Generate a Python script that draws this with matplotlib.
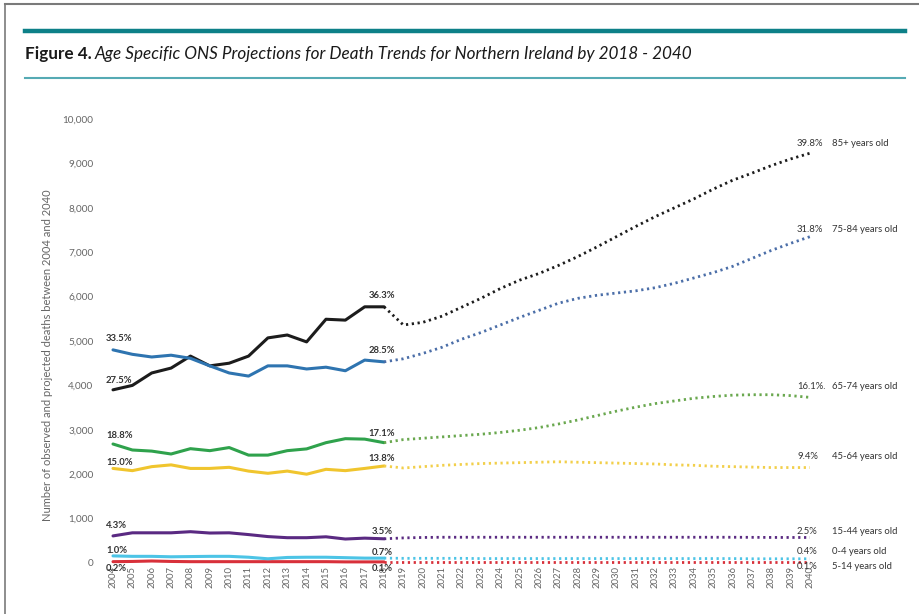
import numpy as np
import matplotlib
matplotlib.use("Agg")
import matplotlib.pyplot as plt
from matplotlib.lines import Line2D

plt.rcParams['font.family'] = ['Lato', 'DejaVu Sans']

# -------- DATOS --------
years_obs = list(range(2004, 2019))
years_proj = list(range(2019, 2041))

groups = ['85+ years old', '75-84 years old', '65-74 years old', '45-64 years old',
          '15-44 years old', '0-4 years old', '5-14 years old']

obs_85 = [3900, 4000, 4280, 4390, 4660, 4440, 4500, 4660, 5070, 5135, 4980, 5490, 5470, 5770, 5770]
proj_85 = [5360, 5420, 5560, 5760, 5960, 6180, 6370, 6520, 6700, 6900, 7120, 7350, 7580, 7800,
           8000, 8200, 8420, 8620, 8780, 8950, 9100, 9230]

obs_75 = [4800, 4700, 4640, 4680, 4610, 4440, 4280, 4210, 4440, 4440, 4370, 4410, 4330, 4570, 4530]
proj_75 = [4600, 4720, 4860, 5040, 5190, 5360, 5530, 5690, 5850, 5960, 6030, 6080, 6130, 6200,
           6300, 6420, 6540, 6680, 6860, 7040, 7200, 7350]

obs_65 = [2680, 2545, 2520, 2455, 2575, 2530, 2600, 2430, 2430, 2530, 2570, 2710, 2800, 2790, 2710]
proj_65 = [2780, 2810, 2840, 2870, 2900, 2940, 2990, 3050, 3130, 3220, 3320, 3420, 3510, 3590,
           3650, 3710, 3750, 3780, 3790, 3790, 3770, 3730]

obs_45 = [2130, 2080, 2170, 2210, 2130, 2130, 2155, 2070, 2020, 2070, 2000, 2110, 2080, 2130, 2185]
proj_45 = [2140, 2170, 2200, 2220, 2240, 2250, 2260, 2270, 2280, 2270, 2260, 2250, 2240, 2230,
           2210, 2200, 2180, 2170, 2160, 2150, 2150, 2150]

obs_15 = [610, 680, 680, 680, 705, 675, 680, 640, 595, 570, 570, 590, 540, 560, 545]
proj_15 = [565, 575, 580, 580, 580, 580, 580, 580, 580, 580, 580, 580, 580, 580,
           580, 580, 580, 580, 578, 576, 575, 575]

obs_0 = [160, 150, 150, 140, 145, 150, 150, 130, 95, 125, 130, 130, 120, 110, 110]
proj_0 = [105, 105, 105, 105, 100, 100, 100, 100, 100, 100, 100, 100, 100, 100,
          100, 100, 100, 100, 95, 95, 95, 95]

obs_5 = [30, 35, 45, 35, 30, 30, 30, 30, 30, 30, 30, 30, 25, 25, 25]
proj_5 = [25, 25, 25, 25, 25, 25, 25, 25, 25, 25, 25, 25, 25, 25,
          25, 25, 25, 25, 25, 25, 25, 25]

pct_2004 = ['27.5%', '33.5%', '18.8%', '15.0%', '4.3%', '1.0%', '0.2%']
pct_2018 = ['36.3%', '28.5%', '17.1%', '13.8%', '3.5%', '0.7%', '0.1%']
pct_2040 = ['39.8%', '31.8%', '16.1%.', '9.4%', '2.5%', '0.4%', '0.1%']

observados = [obs_85, obs_75, obs_65, obs_45, obs_15, obs_0, obs_5]
proyectados = [proj_85, proj_75, proj_65, proj_45, proj_15, proj_0, proj_5]

# -------- ESTILO --------
col_obs = ['#1c1c1c', '#2e74b0', '#2fa24c', '#f0c52e', '#5a2a82', '#4cc4e6', '#d8303a']
col_proj = ['#1c1c1c', '#4b6ea8', '#6aa84f', '#f2cf4a', '#5a2a82', '#4cc4e6', '#d8303a']

# desplazamientos de etiquetas (en pixeles, + arriba)
dy_ini = [9, 11, 8.5, 5.5, 10, 5.5, -7]
dy_mid = [11, 11, 9.5, 7.5, 7.5, 6, -7]
dy_fin = [10, 7, 11, 11, 6, 7, -5]

W, H = 919, 614
fig = plt.figure(figsize=(W / 100, H / 100), dpi=100)

# marco y barras del encabezado
fig.add_artist(Line2D([5 / W, 1], [1 - 4 / H, 1 - 4 / H], color='#7a7a7a', lw=1.5))
fig.add_artist(Line2D([5 / W, 5 / W], [0, 1 - 4 / H], color='#7a7a7a', lw=1.2))
fig.add_artist(Line2D([25 / W, 905 / W], [1 - 30.5 / H, 1 - 30.5 / H], color='#0d8088', lw=3.2))
fig.add_artist(Line2D([25 / W, 905 / W], [1 - 78 / H, 1 - 78 / H], color='#55aab4', lw=1.5))

t1 = fig.text(25 / W, 1 - 59 / H, 'Figure 4.', fontsize=12.3, fontweight='bold',
              color='#1a1a1a', va='baseline')
fig.canvas.draw()
bb = t1.get_window_extent()
fig.text(bb.x1 / W + 3 / W, 1 - 59 / H,
         'Age Specific ONS Projections for Death Trends for Northern Ireland by 2018 - 2040',
         fontsize=12.3, fontstyle='italic', color='#1a1a1a', va='baseline')

# ejes: 2004 -> x=113 px, 2040 -> x=810 px; 0 -> y=563, 10000 -> y=119
ax = fig.add_axes([113 / W, (H - 563) / H, (810 - 113) / W, (563 - 119) / H])
ax.set_xlim(2004, 2040)
ax.set_ylim(0, 10000)
for s in ax.spines.values():
    s.set_visible(False)

for i in range(len(groups)):
    ax.plot(years_obs, observados[i], color=col_obs[i], lw=2.2, solid_capstyle='round',
            clip_on=False, zorder=3 + (i == 5))
    ax.plot([years_obs[-1]] + years_proj, [observados[i][-1]] + proyectados[i],
            color=col_proj[i], lw=2.0, linestyle=(0, (0.8, 1.3)),
            dash_capstyle='butt', clip_on=False, zorder=3)

tc = '#333333'
for i in range(len(groups)):
    y0 = observados[i][0]
    ax.annotate(pct_2004[i], (2004, y0), xytext=(-5, dy_ini[i] * 0.72), textcoords='offset points',
                ha='left', va='center', fontsize=6.8, fontweight='bold', color=tc)
    y1 = observados[i][-1]
    ax.annotate(pct_2018[i], (2018, y1), xytext=(-1.5, dy_mid[i] * 0.72), textcoords='offset points',
                ha='center', va='center', fontsize=6.8, fontweight='bold', color=tc)
    y2 = proyectados[i][-1]
    ax.annotate(pct_2040[i], (2040, y2), xytext=(-13 * 0.72, dy_fin[i] * 0.72), textcoords='offset points',
                ha='left', va='center', fontsize=6.8, color=tc)
    ax.annotate(groups[i], (2040, y2), xytext=(22 * 0.72, dy_fin[i] * 0.72), textcoords='offset points',
                ha='left', va='center', fontsize=6.8, color=tc)

yt = np.arange(0, 10001, 1000)
ax.set_yticks(yt)
ax.set_yticklabels([f'{v:,}' for v in yt])
ax.set_xticks(list(range(2004, 2041)))
ax.set_xticklabels([str(v) for v in range(2004, 2041)], rotation=90)
ax.tick_params(axis='y', length=0, pad=14, labelsize=7.2, labelcolor='#666666')
ax.tick_params(axis='x', length=0, pad=2, labelsize=6.8, labelcolor='#666666')

fig.text(48 / W, 1 - 355 / H, 'Number of observed and projected deaths between 2004 and 2040',
         rotation=90, ha='center', va='center', fontsize=8, color='#666666')

fig.savefig('out.png', dpi=100)
